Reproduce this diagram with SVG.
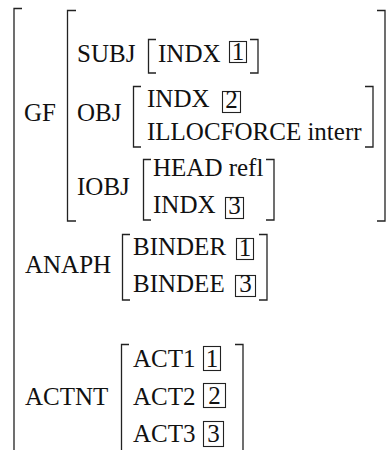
<svg xmlns="http://www.w3.org/2000/svg" width="387" height="450" viewBox="0 0 387 450">
<rect width="387" height="450" fill="#fff"/>
<g id="brackets" fill="none" stroke="#222" stroke-width="1.3">
<path d="M22,8.5H14V450"/>
<path d="M76,10.5H67.5V221H76"/>
<path d="M377,10.5H385V221H377"/>
<path d="M156,39.5H148.5V73H156"/>
<path d="M250,39.5H258V73H250"/>
<path d="M141,86.5H133.5V147H141"/>
<path d="M365,86.5H373V147H365"/>
<path d="M151,159.5H143.5V220H151"/>
<path d="M266,159.5H274V220H266"/>
<path d="M130,234.5H122.5V300H130"/>
<path d="M259,234.5H267V300H259"/>
<path d="M129,344.5H121.5V450"/>
<path d="M235,344.5H243V450"/>
</g>
<g id="boxes" fill="none" stroke="#222" stroke-width="1.1">
<rect x="229.5" y="41.5" width="17" height="21"/>
<rect x="222.5" y="91.5" width="18" height="21"/>
<rect x="225.5" y="197.5" width="18" height="21"/>
<rect x="236.5" y="238.5" width="17" height="21"/>
<rect x="235.5" y="275.5" width="20" height="21"/>
<rect x="203.5" y="346.5" width="17" height="24"/>
<rect x="203.5" y="383.5" width="22" height="24"/>
<rect x="203.5" y="421.5" width="20" height="25"/>
</g>
<g id="gf" fill="#111">
<text x="24" y="121" font-family="Liberation Serif" font-size="25">GF</text>
<g id="subj"><text x="77" y="62" font-family="Liberation Serif" font-size="25">SUBJ</text><text x="158" y="62" font-family="Liberation Serif" font-size="25">INDX</text><text x="238" y="60" text-anchor="middle" font-family="Liberation Serif" font-size="25">1</text></g>
<g id="obj"><text x="77" y="121" font-family="Liberation Serif" font-size="25">OBJ</text><text x="147" y="107" font-family="Liberation Serif" font-size="25">INDX</text><text x="231.5" y="108" text-anchor="middle" font-family="Liberation Serif" font-size="25">2</text><text x="147" y="140" font-family="Liberation Serif" font-size="25">ILLOCFORCE interr</text></g>
<g id="iobj"><text x="77" y="195" font-family="Liberation Serif" font-size="25">IOBJ</text><text x="153" y="176" font-family="Liberation Serif" font-size="25">HEAD refl</text><text x="153" y="213" font-family="Liberation Serif" font-size="25">INDX</text><text x="234.5" y="214" text-anchor="middle" font-family="Liberation Serif" font-size="25">3</text></g>
</g>
<g id="anaph" fill="#111"><text x="25" y="273" font-family="Liberation Serif" font-size="25">ANAPH</text><text x="133" y="255" font-family="Liberation Serif" font-size="25">BINDER</text><text x="245" y="256" text-anchor="middle" font-family="Liberation Serif" font-size="25">1</text><text x="133" y="292" font-family="Liberation Serif" font-size="25">BINDEE</text><text x="245.5" y="292" text-anchor="middle" font-family="Liberation Serif" font-size="25">3</text></g>
<g id="actnt" fill="#111"><text x="25" y="405" font-family="Liberation Serif" font-size="25">ACTNT</text><text x="133" y="367" font-family="Liberation Serif" font-size="25">ACT1</text><text x="212" y="367" text-anchor="middle" font-family="Liberation Serif" font-size="25">1</text><text x="133" y="405" font-family="Liberation Serif" font-size="25">ACT2</text><text x="214.5" y="404" text-anchor="middle" font-family="Liberation Serif" font-size="25">2</text><text x="133" y="442" font-family="Liberation Serif" font-size="25">ACT3</text><text x="213.5" y="442" text-anchor="middle" font-family="Liberation Serif" font-size="25">3</text></g>
</svg>
